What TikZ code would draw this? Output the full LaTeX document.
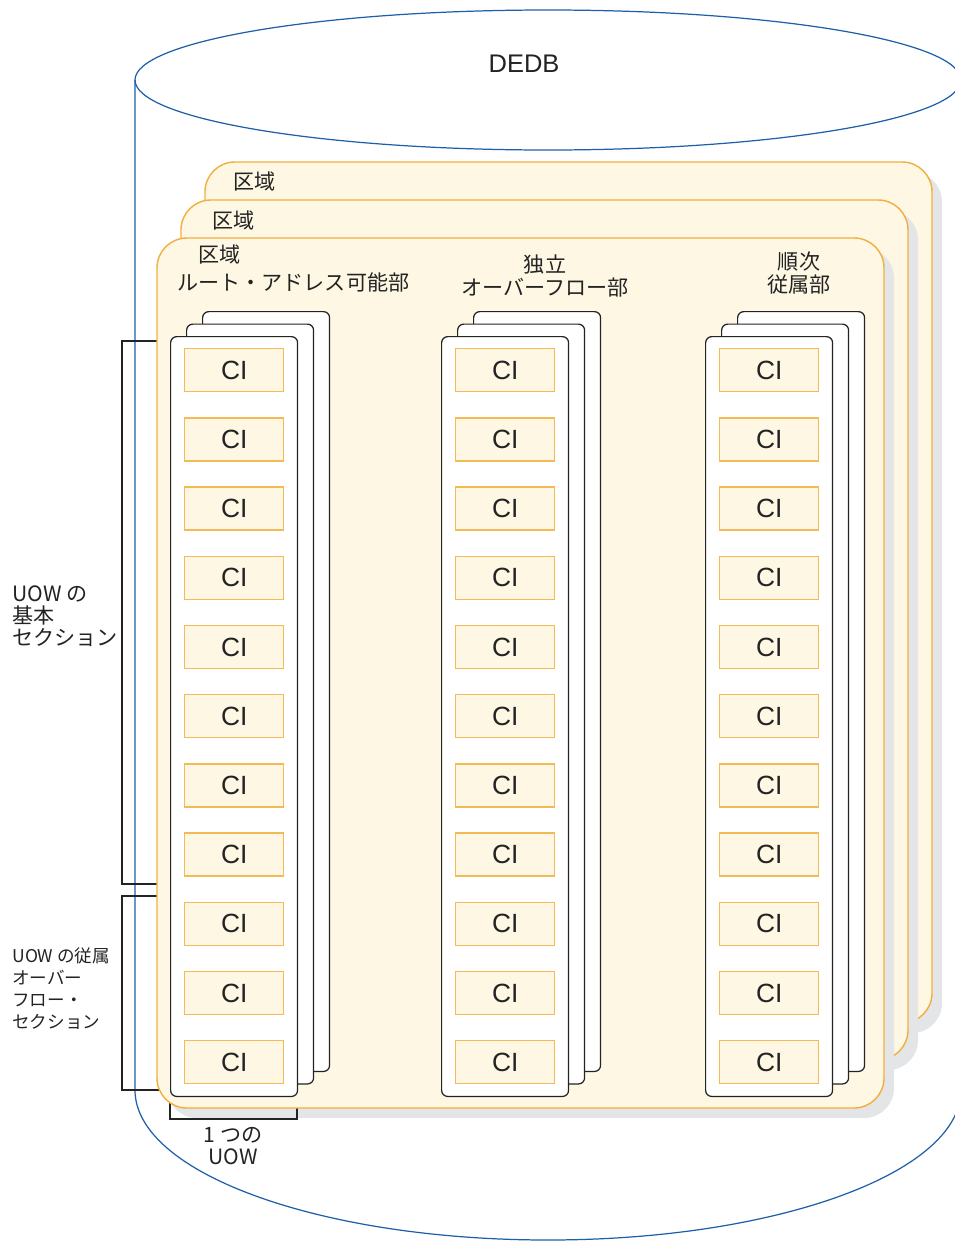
\documentclass[tikz,border=0pt]{standalone}
\usepackage{fontspec}
\setmainfont{Noto Sans CJK JP}
\newfontfamily\latinfont{Liberation Sans}
\usetikzlibrary{positioning, calc}
\definecolor{myblue}{RGB}{30,95,170}
\definecolor{myorange}{RGB}{242,174,62}
\definecolor{mylightorange}{RGB}{244,186,86}
\definecolor{mycream}{RGB}{253,247,228}
\definecolor{myshadow}{RGB}{228,229,231}
\definecolor{mydark}{RGB}{35,35,35}
\tikzset{
  area/.style={fill=mycream, draw=myorange, line width=0.8pt, rounded corners=17pt},
  areashadow/.style={fill=myshadow, rounded corners=17pt},
  uowbox/.style={rectangle, draw=mydark, fill=white, line width=0.7pt,
    rounded corners=3.5pt, minimum width=2.54cm, minimum height=15.2cm,
    anchor=north west, inner sep=0pt},
  cibox/.style={rectangle, draw=mylightorange, fill=mycream, line width=0.8pt,
    minimum width=1.98cm, minimum height=0.86cm, anchor=north west,
    font=\latinfont\fontsize{15}{15}\selectfont, text=mydark, inner sep=0pt},
  label/.style={font=\fontsize{12}{12.6}\selectfont, text=mydark, align=left, inner sep=0pt},
  smalllabel/.style={font=\fontsize{10}{12.5}\selectfont, text=mydark, align=left, inner sep=0pt},
  line/.style={line width=0.6pt, color=mydark}
}

\begin{document}
\begin{tikzpicture}[x=0.02cm, y=-0.02cm]
  \useasboundingbox (0,0) rectangle (954,1241);

  % DEDB cylinder
  \draw[myblue, line width=0.7pt] (548,80) ellipse [x radius=413, y radius=70];
  \draw[myblue, line width=0.7pt] (135,80) -- (135,1090)
    arc [start angle=180, end angle=0, x radius=413, y radius=150] -- (961,80);
  \node[font=\latinfont\fontsize{14.5}{14.5}\selectfont, text=mydark] (dedb) at (524,64) {DEDB};

  % Areas (back to front)
  \fill[areashadow] (215,172) rectangle (942,1033);
  \draw[area] (205,162) rectangle (932,1023);
  \fill[areashadow] (191,210) rectangle (918,1070);
  \draw[area] (181,200) rectangle (908,1060);
  \fill[areashadow] (167,248) rectangle (894,1118);

  % Brackets
  \draw[line] (165,341) -| (122,884) -- (165,884);
  \draw[line] (165,896) -| (122,1090) -- (165,1090);
  \draw[line] (170,1100) -- (170,1119) -| (297,1100);

  \draw[area] (157,238) rectangle (884,1108);

  % Area labels
  \node[label, anchor=west] (area3) at (233,182) {区域};
  \node[label, anchor=west] (area2) at (212,221) {区域};
  \node[label, anchor=west] (area1) at (198,255) {区域};
  \node[label, anchor=west] (rap) at (177,282) {ルート・アドレス可能部};
  \node[label, align=center] (iovf) at (545,276) {独立\\オーバーフロー部};
  \node[label, align=center] (sdep) at (799,273) {順次\\従属部};

  % UOW stacks with CIs
  \foreach \col/\xl in {1/170, 2/441, 3/705} {
    \node[uowbox] (uow\col c) at (\xl+32,311) {};
    \node[uowbox] (uow\col b) at (\xl+16,323.5) {};
    \node[uowbox] (uow\col a) at (\xl,336) {};
    \foreach \i in {0,...,10}
      \node[cibox] (ci\col-\i) at (\xl+14,348+69.2*\i) {CI};
  }

  % Side labels
  \node[label, anchor=west] (base) at (12,616) {UOW の\\基本\\セクション};
  \node[smalllabel, anchor=west] (dovf) at (12,989) {UOW の従属\\オーバー\\フロー・\\セクション};
  \node[label, align=center] (oneuow) at (233,1146) {1 つの\\UOW};
\end{tikzpicture}
\end{document}
